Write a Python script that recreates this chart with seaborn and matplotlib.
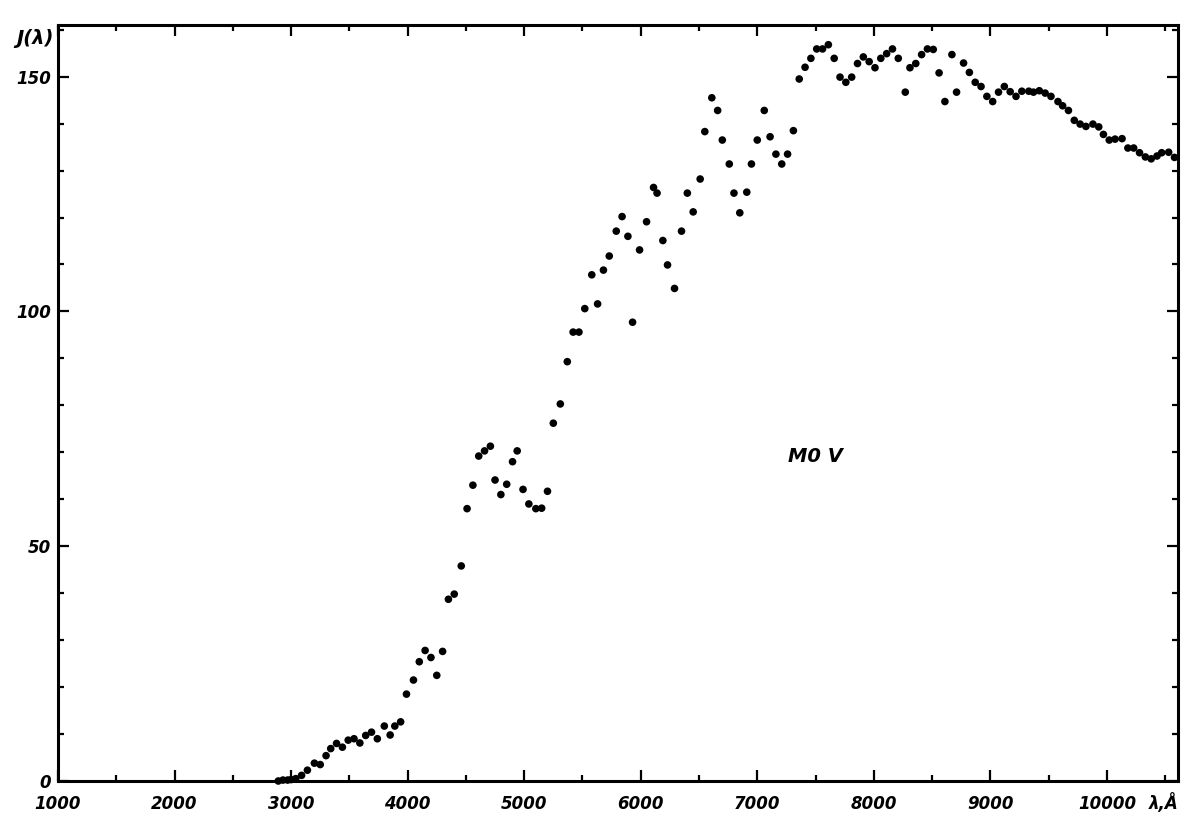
import numpy as np
import pandas as pd
import matplotlib
matplotlib.use("Agg")
import matplotlib.pyplot as plt
import seaborn as sns
from matplotlib.ticker import MultipleLocator

# spectral energy distribution of an M0 V star
wavelength = [
    2890, 2930, 2970, 3000, 3040, 3090, 3140, 3200, 3250, 3300,
    3340, 3390, 3440, 3490, 3540, 3590, 3640, 3690, 3740, 3800,
    3850, 3890, 3940, 3990, 4050, 4100, 4150, 4200, 4250, 4300,
    4350, 4400, 4460, 4510, 4560, 4610, 4660, 4710, 4750, 4800,
    4850, 4900, 4940, 4990, 5040, 5100, 5150, 5200, 5250, 5310,
    5370, 5420, 5470, 5520, 5580, 5630, 5680, 5730, 5790, 5840,
    5890, 5930, 5990, 6050, 6110, 6140, 6190, 6230, 6290, 6350,
    6400, 6450, 6510, 6550, 6610, 6660, 6700, 6760, 6800, 6850,
    6910, 6950, 7000, 7060, 7110, 7160, 7210, 7260, 7310, 7360,
    7410, 7460, 7510, 7560, 7610, 7660, 7710, 7760, 7810, 7860,
    7910, 7960, 8010, 8060, 8110, 8160, 8210, 8270, 8310, 8360,
    8410, 8460, 8510, 8560, 8610, 8670, 8710, 8770, 8820, 8870,
    8920, 8970, 9020, 9070, 9120, 9170, 9220, 9270, 9330, 9370,
    9420, 9470, 9520, 9580, 9620, 9670, 9720, 9770, 9820, 9880,
    9930, 9970, 10020, 10070, 10130, 10180, 10230, 10280, 10330, 10380,
    10430, 10470, 10530, 10580,
]
intensity = [
    0.0, 0.2, 0.2, 0.3, 0.5, 1.2, 2.3, 3.8, 3.5, 5.4,
    6.9, 8.0, 7.2, 8.7, 9.0, 8.1, 9.7, 10.4, 9.0, 11.7,
    9.8, 11.7, 12.6, 18.5, 21.5, 25.4, 27.8, 26.3, 22.5, 27.6,
    38.7, 39.8, 45.8, 58.0, 63.0, 69.2, 70.3, 71.3, 64.1, 61.0,
    63.2, 68.0, 70.3, 62.1, 59.0, 58.0, 58.1, 61.7, 76.2, 80.3,
    89.3, 95.6, 95.6, 100.6, 107.8, 101.6, 108.8, 111.8, 117.1, 120.2,
    116.0, 97.7, 113.1, 119.1, 126.4, 125.2, 115.1, 109.9, 104.9, 117.1,
    125.2, 121.2, 128.2, 138.3, 145.5, 142.8, 136.5, 131.4, 125.2, 121.0,
    125.4, 131.4, 136.5, 142.8, 137.2, 133.5, 131.4, 133.5, 138.5, 149.5,
    152.0, 153.9, 155.9, 155.9, 156.8, 153.9, 149.9, 148.8, 149.9, 152.8,
    154.2, 153.2, 151.9, 153.9, 154.9, 155.9, 153.9, 146.7, 151.9, 152.8,
    154.7, 155.9, 155.8, 150.8, 144.7, 154.7, 146.7, 152.9, 150.9, 148.8,
    147.9, 145.8, 144.7, 146.7, 147.9, 146.8, 145.8, 146.9, 146.9, 146.7,
    147.0, 146.5, 145.8, 144.7, 143.8, 142.8, 140.7, 139.9, 139.4, 139.9,
    139.3, 137.7, 136.5, 136.7, 136.8, 134.8, 134.8, 133.8, 132.9, 132.5,
    133.1, 133.8, 133.9, 132.8,
]

x_ticks = [1000, 2000, 3000, 4000, 5000, 6000, 7000, 8000, 9000, 10000]
x_tick_labels = ["1000", "2000", "3000", "4000", "5000", "6000",
                 "7000", "8000", "9000", "10000"]
y_ticks = [0, 50, 100, 150]
y_tick_labels = ["0", "50", "100", "150"]

sns.set_style("ticks")
plt.rcParams["font.family"] = ["DejaVu Sans"]
plt.rcParams["text.color"] = "black"
plt.rcParams["xtick.color"] = "black"
plt.rcParams["ytick.color"] = "black"

df = pd.DataFrame({"lam": wavelength, "J": intensity})

fig = plt.figure(figsize=(12, 8.24), dpi=100)
ax = fig.add_axes([58 / 1200, 1 - 781 / 824, (1178 - 58) / 1200, (781 - 25) / 824])

sns.scatterplot(data=df, x="lam", y="J", color="black", s=30,
                edgecolor="none", legend=False, ax=ax, clip_on=False)

ax.set_xlim(1000, 10610)
ax.set_ylim(0, 161)
ax.set_xlabel("")
ax.set_ylabel("")

font = dict(fontsize=12, fontweight="bold", fontstyle="italic", color="black")
big = dict(font, fontsize=14)
ax.set_xticks(x_ticks)
ax.set_xticklabels(x_tick_labels, **font)
ax.set_yticks(y_ticks)
ax.set_yticklabels(y_tick_labels, **font)
ax.xaxis.set_minor_locator(MultipleLocator(500))
ax.yaxis.set_minor_locator(MultipleLocator(10))

ax.tick_params(which="both", direction="in", top=True, right=True,
               color="black", width=1.6)
ax.tick_params(which="major", length=8)
ax.tick_params(which="minor", length=4)
ax.tick_params(axis="x", which="major", pad=10)
ax.tick_params(axis="y", which="major", pad=5)

for side in ["left", "right", "top", "bottom"]:
    ax.spines[side].set_visible(True)
    ax.spines[side].set_linewidth(2.2)
    ax.spines[side].set_color("black")

ax.text(7500, 69, "M0 V", ha="center", va="center", **big)
fig.text(35 / 1200, 1 - 38 / 824, "J(λ)", ha="center", va="center", **big)
fig.text(1164 / 1200, 1 - 803 / 824, "λ,Å", ha="center", va="center", **font)

fig.savefig("out.png", dpi=100, facecolor="white")
